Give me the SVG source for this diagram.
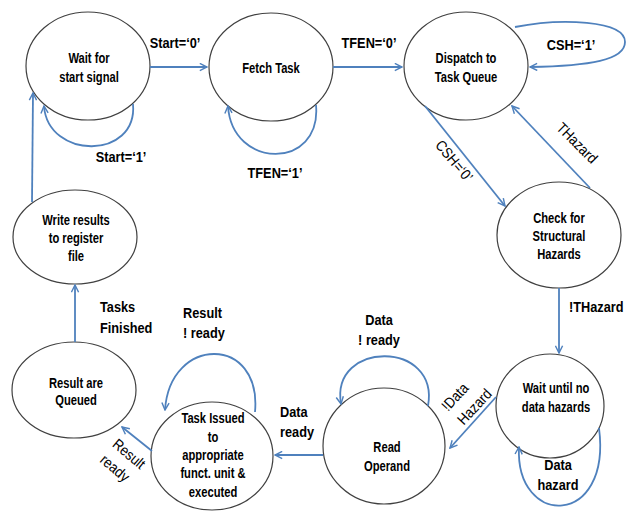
<svg xmlns="http://www.w3.org/2000/svg" width="626" height="512" viewBox="0 0 626 512">
<style>
.node ellipse{fill:#fff;stroke:#404040;stroke-width:1.2}
.edge{fill:none;stroke:#4f81bd;stroke-width:1.8;marker-end:url(#arr)}
text{font-family:"Liberation Sans",Arial,sans-serif;font-weight:bold;fill:#000}
.n{font-size:14px;text-anchor:middle}
.l{font-size:14.5px}
.r{font-weight:normal;font-size:15px;text-anchor:middle}
</style>
<defs>
<marker id="arr" viewBox="0 0 10 10" refX="9" refY="5" markerWidth="9" markerHeight="9" orient="auto" markerUnits="userSpaceOnUse">
<path d="M1,1 L9,5 L1,9" fill="none" stroke="#4f81bd" stroke-width="1.6"/>
</marker>
</defs>
<rect width="626" height="512" fill="#fff"/>
<g id="n1" class="node"><ellipse cx="88" cy="66" rx="62" ry="54"/><text class="n" transform="translate(89 0) scale(.8 1)"><tspan x="0" y="63">Wait for</tspan><tspan x="0" y="82">start signal</tspan></text></g>
<g id="n2" class="node"><ellipse cx="271" cy="67" rx="62" ry="54"/><text class="n" transform="translate(271 0) scale(.8 1)"><tspan x="0" y="73">Fetch Task</tspan></text></g>
<g id="n3" class="node"><ellipse cx="466" cy="66" rx="62" ry="54"/><text class="n" transform="translate(466 0) scale(.8 1)"><tspan x="0" y="63">Dispatch to</tspan><tspan x="0" y="82">Task Queue</tspan></text></g>
<g id="n4" class="node"><ellipse cx="559" cy="235" rx="62" ry="53"/><text class="n" transform="translate(559 0) scale(.8 1)"><tspan x="0" y="223">Check for</tspan><tspan x="0" y="241">Structural</tspan><tspan x="0" y="259">Hazards</tspan></text></g>
<g id="n5" class="node"><ellipse cx="550" cy="406" rx="54" ry="52"/><text class="n" transform="translate(556 0) scale(.8 1)"><tspan x="0" y="393">Wait until no</tspan><tspan x="0" y="412">data hazards</tspan></text></g>
<g id="n6" class="node"><ellipse cx="384" cy="446" rx="61" ry="58"/><text class="n" transform="translate(387 0) scale(.8 1)"><tspan x="0" y="452">Read</tspan><tspan x="0" y="471">Operand</tspan></text></g>
<g id="n7" class="node"><ellipse cx="212" cy="456" rx="61" ry="54"/><text class="n" transform="translate(213 0) scale(.8 1)"><tspan x="0" y="423">Task Issued</tspan><tspan x="0" y="442">to</tspan><tspan x="0" y="460">appropriate</tspan><tspan x="0" y="478">funct. unit &amp;</tspan><tspan x="0" y="497">executed</tspan></text></g>
<g id="n8" class="node"><ellipse cx="74" cy="390" rx="62" ry="48"/><text class="n" transform="translate(76 0) scale(.8 1)"><tspan x="0" y="388">Result are</tspan><tspan x="0" y="405">Queued</tspan></text></g>
<g id="n9" class="node"><ellipse cx="75" cy="237" rx="62" ry="47"/><text class="n" transform="translate(76 0) scale(.8 1)"><tspan x="0" y="225">Write results</tspan><tspan x="0" y="243">to register</tspan><tspan x="0" y="261">file</tspan></text></g>
<g id="connectors">
<path class="edge" d="M150,67 L207,67"/>
<path class="edge" d="M133,104 C138,160 48,160 44,106"/>
<path class="edge" d="M333,67 L402,67"/>
<path class="edge" d="M316,105 C322,170 232,170 228,106"/>
<path class="edge" d="M515,27 C560,18 625,20 625,42 C625,60 590,66 530,67"/>
<path class="edge" d="M425,106 L505,206"/>
<path class="edge" d="M590,188 L512,106"/>
<path class="edge" d="M559,288 L559,353"/>
<path class="edge" d="M599,428 C612,528 515,528 519,447"/>
<path class="edge" d="M496,397 L450,448"/>
<path class="edge" d="M428,406 C440,340 330,340 341,404"/>
<path class="edge" d="M323,455 L275,455"/>
<path class="edge" d="M255,412 C262,335 170,335 165,410"/>
<path class="edge" d="M152,451 L122,427"/>
<path class="edge" d="M75,342 L75,285"/>
<path class="edge" d="M32,202 L33,93"/>
<text class="l" transform="translate(175 0) scale(.88 1)" text-anchor="middle"><tspan x="0" y="48">Start=‘0’</tspan></text>
<text class="l" transform="translate(121 0) scale(.88 1)" text-anchor="middle"><tspan x="0" y="162">Start=‘1’</tspan></text>
<text class="l" transform="translate(369 0) scale(.88 1)" text-anchor="middle"><tspan x="0" y="48">TFEN=‘0’</tspan></text>
<text class="l" transform="translate(275 0) scale(.88 1)" text-anchor="middle"><tspan x="0" y="178">TFEN=‘1’</tspan></text>
<text class="l" transform="translate(571 0) scale(.88 1)" text-anchor="middle"><tspan x="0" y="50">CSH=‘1’</tspan></text>
<text class="r" transform="translate(454 161) rotate(50) scale(.88 1)" x="0" y="5">CSH=‘0’</text>
<text class="r" transform="translate(577 143) rotate(45) scale(.88 1)" x="0" y="5">THazard</text>
<text class="l" transform="translate(569 0) scale(.88 1)"><tspan x="0" y="312">!THazard</tspan></text>
<text class="l" transform="translate(558 0) scale(.88 1)" text-anchor="middle"><tspan x="0" y="470">Data</tspan><tspan x="0" y="490">hazard</tspan></text>
<text class="r" transform="translate(455 397) rotate(-47) scale(.88 1)"><tspan x="0" y="5">!Data</tspan><tspan x="7" y="26">Hazard</tspan></text>
<text class="l" transform="translate(379 0) scale(.88 1)" text-anchor="middle"><tspan x="0" y="325">Data</tspan><tspan x="0" y="345">! ready</tspan></text>
<text class="l" transform="translate(280 0) scale(.88 1)"><tspan x="0" y="417">Data</tspan><tspan x="0" y="437">ready</tspan></text>
<text class="l" transform="translate(183 0) scale(.88 1)"><tspan x="0" y="318">Result</tspan><tspan x="0" y="338">! ready</tspan></text>
<text class="r" transform="translate(129 454) rotate(40) scale(.88 1)"><tspan x="0" y="5">Result</tspan><tspan x="-2" y="25">ready</tspan></text>
<text class="l" transform="translate(100 0) scale(.88 1)"><tspan x="0" y="312">Tasks</tspan><tspan x="0" y="333">Finished</tspan></text>
</g>
</svg>
